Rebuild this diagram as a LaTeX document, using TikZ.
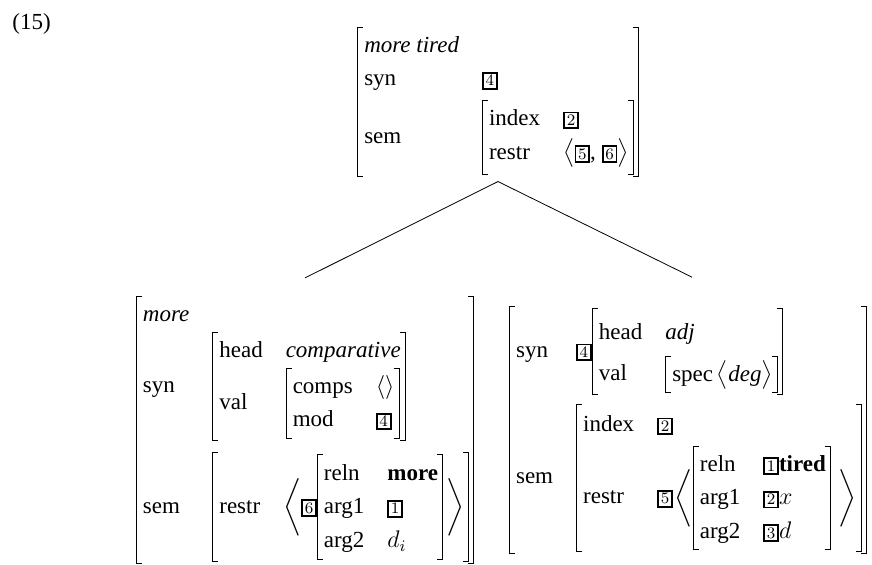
\documentclass[tikz,border=0pt]{standalone}
\usepackage[no-math]{fontspec}
\setmainfont{Liberation Serif}
\usepackage{amsmath}
\usepackage{array}

% boxed tags
\newcommand{\tagnum}[1]{{\setlength{\fboxsep}{0.9pt}\setlength{\fboxrule}{0.9pt}\fbox{\fontsize{8}{8}\selectfont$#1$}}}

% attribute-value matrix with thin square brackets
\newsavebox{\avmcontent}
\newlength{\avmht}
\newlength{\avmdp}
\newcommand{\lbrk}{\rlap{\vrule width 3pt height \avmht depth -\dimexpr\avmht-0.5pt\relax}%
  \rlap{\vrule width 3pt height -\dimexpr\avmdp-0.5pt\relax depth \avmdp}%
  \vrule width 0.5pt height \avmht depth \avmdp}
\newcommand{\rbrk}{\vrule width 0.5pt height \avmht depth \avmdp
  \llap{\vrule width 3pt height \avmht depth -\dimexpr\avmht-0.5pt\relax}%
  \llap{\vrule width 3pt height -\dimexpr\avmdp-0.5pt\relax depth \avmdp}}
\newcommand{\avm}[1]{{\renewcommand{\arraystretch}{1.2}%
  \sbox{\avmcontent}{\begin{tabular}{@{}l@{}>{\hspace{11.5pt}}l@{}}#1\end{tabular}}%
  \setlength{\avmht}{\dimexpr\ht\avmcontent+1pt}%
  \setlength{\avmdp}{\dimexpr\dp\avmcontent+1pt}%
  \lbrk\hspace{3pt}\usebox{\avmcontent}\hspace{2pt}\rbrk}}

\begin{document}
\begin{tikzpicture}[x=0.5pt, y=-0.5pt,
    every node/.style={inner sep=0pt, font=\fontsize{11.5}{14}\selectfont}]
  \useasboundingbox (0,0) rectangle (872,565);

  \node[anchor=west] (ex) at (12,24) {(15)};

  % mother
  \node (top) at (498,102) {\avm{\textit{more tired} \\
      syn & \tagnum{4} \\[2pt]
      sem & \avm{index & \tagnum{2} \\
        restr & $\bigl\langle$\tagnum{5}, \tagnum{6}$\bigr\rangle$\rule[-7pt]{0pt}{7pt}}}};

  % daughters
  \node (more) at (305,430) {\avm{\textit{more} \\
      syn & \avm{head & \textit{comparative} \\
        val & \avm{comps & $\langle\rangle$ \\ mod & \tagnum{4}}} \\[25pt]
      sem & \avm{restr & $\biggl\langle$\tagnum{6}\avm{reln & \textbf{more}\rule{0pt}{12pt} \\
          arg1 & \tagnum{1} \\
          arg2 & $d_i$}\hspace{1.5pt}$\biggr\rangle$}}};

  \node (tired) at (688,430) {\avm{syn & \tagnum{4}\avm{head & \textit{adj}\rule{0pt}{15pt} \\[3pt]
        val & \avm{spec\,$\bigl\langle$\textit{deg}$\bigr\rangle$}} \\[18pt]
      sem & \avm{index & \tagnum{2}\rule{0pt}{13pt} \\[2pt]
        restr & \tagnum{5}\hspace{1pt}$\biggl\langle$\avm{reln & \tagnum{1}\textbf{tired} \\
          arg1 & \tagnum{2}$x$ \\
          arg2 & \tagnum{3}$d$}\hspace{4pt}$\biggr\rangle$\hspace{2pt}}\hspace{4pt}}};

  \draw ([yshift=-2pt]top.south) -- ([yshift=9pt]more.north);
  \draw ([yshift=-2pt]top.south) -- ([xshift=2pt,yshift=14pt]tired.north);
\end{tikzpicture}
\end{document}
